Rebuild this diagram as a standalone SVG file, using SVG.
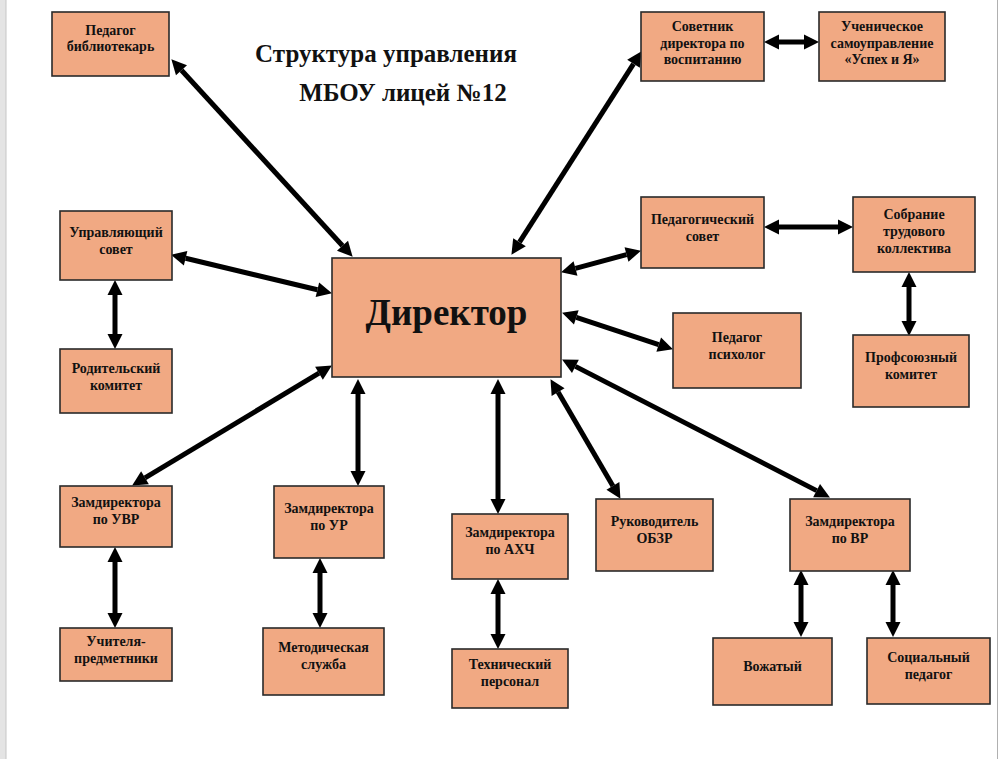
<svg xmlns="http://www.w3.org/2000/svg" width="999" height="759" viewBox="0 0 999 759">
<defs>
<marker id="ah" markerUnits="userSpaceOnUse" markerWidth="16" markerHeight="16" refX="0" refY="0" orient="auto-start-reverse" overflow="visible">
<path d="M0,-7.5 L15,0 L0,7.5 z" fill="#000"/>
</marker>
<style>
.box{fill:#F1A983;stroke:#2a2a2a;stroke-width:1.6}
.t{font-family:"Liberation Serif","Times New Roman",serif;font-weight:bold;font-size:14px;fill:#111;text-anchor:middle}
.title{font-family:"Liberation Serif","Times New Roman",serif;font-weight:bold;font-size:25px;fill:#111;text-anchor:middle}
.big{font-family:"Liberation Serif","Times New Roman",serif;font-weight:bold;font-size:37px;fill:#111;text-anchor:middle}
#connectors line{stroke:#000;stroke-width:5;marker-start:url(#ah);marker-end:url(#ah)}
</style>
</defs>
<rect x="0" y="0" width="999" height="759" fill="#fff"/>
<rect x="0" y="0" width="6" height="759" fill="#e4e4e4"/>
<line x1="6" y1="0" x2="6" y2="759" stroke="#c6c6c6" stroke-width="1"/>
<line x1="997.5" y1="0" x2="997.5" y2="759" stroke="#b0b0b0" stroke-width="1"/>

<g id="title">
<text class="title" x="386" y="62">Структура управления</text>
<text class="title" x="403" y="101">МБОУ лицей №12</text>
</g>

<g id="connectors">
<line x1="181.5" y1="70.3" x2="342.5" y2="245.7"/>
<line x1="633.5" y1="63.8" x2="519.5" y2="242.2"/>
<line x1="779" y1="42" x2="804" y2="42"/>
<line x1="185.6" y1="258.3" x2="317.4" y2="289.7"/>
<line x1="115" y1="295" x2="115" y2="334"/>
<line x1="575.5" y1="268.4" x2="626.5" y2="254.6"/>
<line x1="779" y1="227" x2="838" y2="227"/>
<line x1="909" y1="287" x2="909" y2="321"/>
<line x1="576.3" y1="317.4" x2="658.7" y2="344.6"/>
<line x1="575.4" y1="366.4" x2="816.6" y2="490.6"/>
<line x1="558.1" y1="392.1" x2="612.9" y2="485.9"/>
<line x1="498" y1="394" x2="498" y2="499"/>
<line x1="358" y1="394" x2="358" y2="471"/>
<line x1="319" y1="373.2" x2="145" y2="477.8"/>
<line x1="115" y1="562" x2="115" y2="613"/>
<line x1="320" y1="573" x2="320" y2="613"/>
<line x1="498" y1="594" x2="498" y2="634"/>
<line x1="801" y1="585" x2="801" y2="622"/>
<line x1="893" y1="585" x2="893" y2="622"/>
</g>

<g id="director">
<rect class="box" x="332" y="258" width="229" height="119"/>
<text class="big" x="446.5" y="325">Директор</text>
</g>
<g id="bibliotekar">
<rect class="box" x="52" y="12" width="117" height="64"/>
<text class="t" x="110.5" y="35">Педагог</text>
<text class="t" x="110.5" y="51">библиотекарь</text>
</g>
<g id="sovetnik">
<rect class="box" x="641" y="12" width="123" height="69"/>
<text class="t" x="702.5" y="31">Советник</text>
<text class="t" x="702.5" y="47.5">директора по</text>
<text class="t" x="702.5" y="64">воспитанию</text>
</g>
<g id="samoupravlenie">
<rect class="box" x="819" y="12" width="126" height="69"/>
<text class="t" x="882" y="31">Ученическое</text>
<text class="t" x="882" y="47.5">самоуправление</text>
<text class="t" x="882" y="64">«Успех и Я»</text>
</g>
<g id="upravlyayushchiy">
<rect class="box" x="60" y="211" width="112" height="69"/>
<text class="t" x="116" y="237">Управляющий</text>
<text class="t" x="116" y="254">совет</text>
</g>
<g id="roditelskiy">
<rect class="box" x="60" y="349" width="112" height="64"/>
<text class="t" x="116" y="373">Родительский</text>
<text class="t" x="116" y="390">комитет</text>
</g>
<g id="pedsovet">
<rect class="box" x="641" y="197" width="123" height="71"/>
<text class="t" x="702.5" y="224">Педагогический</text>
<text class="t" x="702.5" y="241">совет</text>
</g>
<g id="sobranie">
<rect class="box" x="853" y="197" width="122" height="75"/>
<text class="t" x="914" y="219">Собрание</text>
<text class="t" x="914" y="236">трудового</text>
<text class="t" x="914" y="253">коллектива</text>
</g>
<g id="psiholog">
<rect class="box" x="673" y="313" width="128" height="75"/>
<text class="t" x="737" y="342">Педагог</text>
<text class="t" x="737" y="359">психолог</text>
</g>
<g id="profsoyuz">
<rect class="box" x="853" y="335" width="116" height="72"/>
<text class="t" x="911" y="362">Профсоюзный</text>
<text class="t" x="911" y="379">комитет</text>
</g>
<g id="zam-uvr">
<rect class="box" x="60" y="486" width="112" height="61"/>
<text class="t" x="116" y="507">Замдиректора</text>
<text class="t" x="116" y="524">по УВР</text>
</g>
<g id="uchitelya">
<rect class="box" x="60" y="628" width="112" height="53"/>
<text class="t" x="116" y="646">Учителя-</text>
<text class="t" x="116" y="663">предметники</text>
</g>
<g id="zam-ur">
<rect class="box" x="274" y="486" width="110" height="72"/>
<text class="t" x="329" y="513">Замдиректора</text>
<text class="t" x="329" y="530">по УР</text>
</g>
<g id="metodicheskaya">
<rect class="box" x="263" y="628" width="121" height="67"/>
<text class="t" x="323.5" y="652">Методическая</text>
<text class="t" x="323.5" y="669">служба</text>
</g>
<g id="zam-ahch">
<rect class="box" x="452" y="514" width="116" height="65"/>
<text class="t" x="510" y="537">Замдиректора</text>
<text class="t" x="510" y="554">по АХЧ</text>
</g>
<g id="tehnicheskiy">
<rect class="box" x="452" y="649" width="116" height="59"/>
<text class="t" x="510" y="669">Технический</text>
<text class="t" x="510" y="686">персонал</text>
</g>
<g id="obzr">
<rect class="box" x="596" y="499" width="117" height="72"/>
<text class="t" x="654.5" y="526">Руководитель</text>
<text class="t" x="654.5" y="543">ОБЗР</text>
</g>
<g id="zam-vr">
<rect class="box" x="790" y="499" width="120" height="72"/>
<text class="t" x="850" y="526">Замдиректора</text>
<text class="t" x="850" y="543">по ВР</text>
</g>
<g id="vozhatyy">
<rect class="box" x="713" y="638" width="119" height="67"/>
<text class="t" x="772.5" y="671">Вожатый</text>
</g>
<g id="socpedagog">
<rect class="box" x="867" y="638" width="123" height="66"/>
<text class="t" x="928.5" y="662">Социальный</text>
<text class="t" x="928.5" y="679">педагог</text>
</g>
</svg>
